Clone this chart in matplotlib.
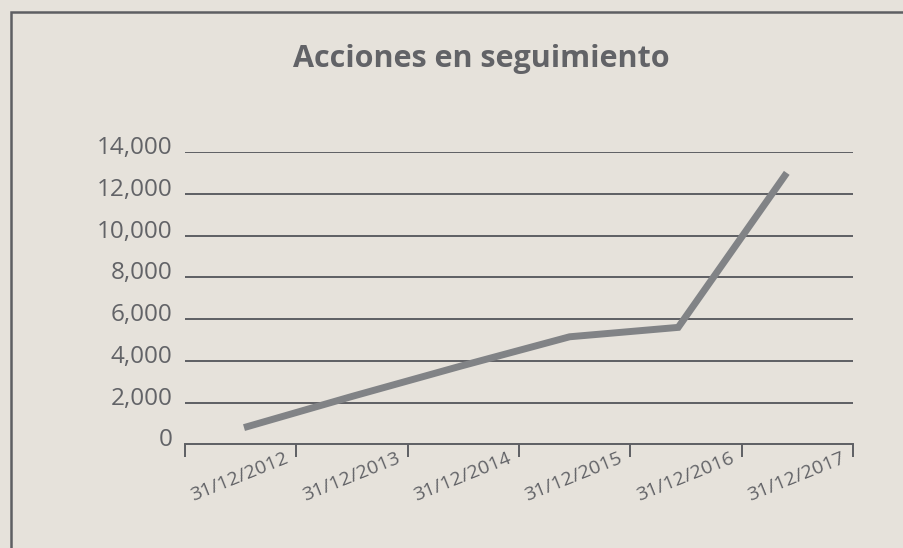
import numpy as np
import matplotlib.pyplot as plt
from matplotlib.patches import Rectangle
from matplotlib.transforms import ScaledTranslation

plt.rcParams['font.family'] = ['Open Sans', 'DejaVu Sans']

fechas = ['31/12/2012', '31/12/2013', '31/12/2014', '31/12/2015', '31/12/2016', '31/12/2017']
acciones = [800, 2300, 3750, 5150, 5600, 13000]
y_ticks = [0, 2000, 4000, 6000, 8000, 10000, 12000, 14000]

bg = '#e6e2db'
grid_c = '#5e5f63'
line_c = '#818386'
text_c = '#626367'

fig = plt.figure(figsize=(9.04, 5.48), dpi=100, facecolor=bg)
ax = fig.add_axes([185/904, 1 - 444.3/548, (853-185)/904, (444.3-152)/548])
ax.set_facecolor(bg)

# points sit a bit left of the category centres in the original
xs = 0.53 + 0.975*np.arange(len(acciones))
ax.plot(xs, acciones, color=line_c, lw=5, solid_capstyle='butt', solid_joinstyle='miter', zorder=3)

ax.set_xlim(0, len(fechas))
ax.set_ylim(0, 14000)
ax.set_yticks(y_ticks)
ax.set_yticklabels([f'{v:,}' for v in y_ticks])
for v in y_ticks[1:]:
    ax.axhline(v, color=grid_c, lw=1.4, zorder=1)

for s in ['top', 'right', 'left']:
    ax.spines[s].set_visible(False)
ax.spines['bottom'].set_color(grid_c)
ax.spines['bottom'].set_linewidth(1.4)

ax.set_xticks(range(len(fechas) + 1))
ax.set_xticklabels([])
ax.tick_params(axis='x', direction='out', length=9.4, width=1.4, color=grid_c)
ax.tick_params(axis='y', length=0, pad=9, labelsize=17.5, labelcolor=text_c)
up = ScaledTranslation(0, 7/100, fig.dpi_scale_trans)
for lab in ax.get_yticklabels():
    lab.set_transform(lab.get_transform() + up)

off = ScaledTranslation(-12/100, -5/100, fig.dpi_scale_trans)
for i, f in enumerate(fechas):
    ax.text(i + 1, 0, f, transform=ax.get_xaxis_transform() + off,
            rotation=22, rotation_mode='anchor', ha='right', va='top',
            fontsize=14, color=text_c)

fig.text(481/904, 1 - 66.7/548, 'Acciones en seguimiento', ha='center', va='baseline',
         fontsize=22, fontweight='bold', color=text_c)

fig.patches.append(Rectangle((10.7/904, -0.2), 1.2, 1.2 - 12/548, transform=fig.transFigure,
                             fill=False, edgecolor=grid_c, lw=1.8))

fig.savefig('out.png', dpi=100, facecolor=bg)
